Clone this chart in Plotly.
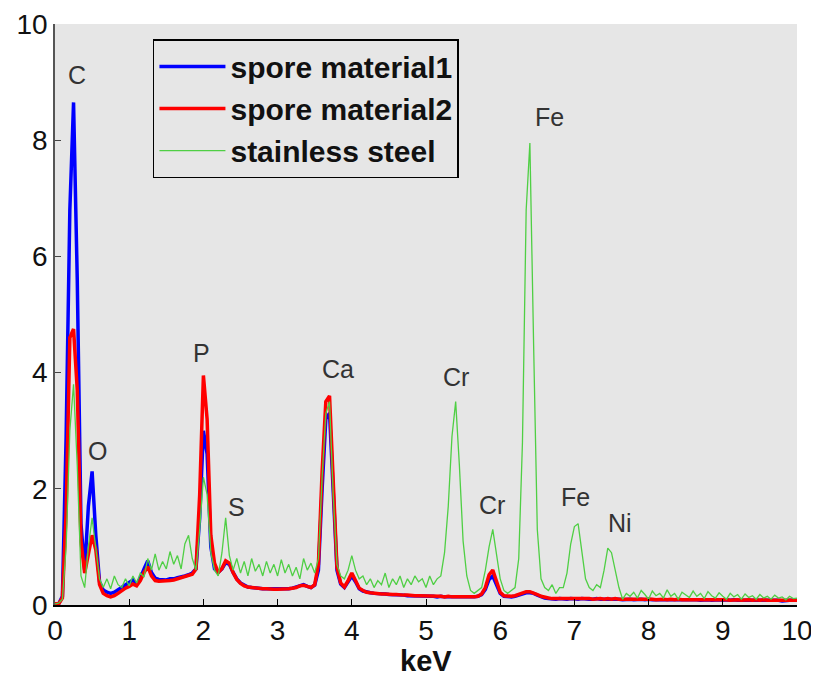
import plotly.graph_objects as go

# Energy grid (keV), 0.05 keV sampling
kev = [round(0.05 * i, 2) for i in range(201)]

# spore material1 (blue), 10 samples per row = 0.5 keV per row
spore1 = [
    0.02, 0.02, 0.15, 2.9, 6.8, 8.65, 5.6, 1.4, 0.6, 1.7,
    2.3, 1.2, 0.4, 0.26, 0.22, 0.2, 0.22, 0.26, 0.3, 0.34,
    0.38, 0.43, 0.36, 0.46, 0.62, 0.76, 0.56, 0.46, 0.44, 0.43,
    0.43, 0.45, 0.45, 0.47, 0.48, 0.5, 0.52, 0.55, 0.62, 1.5,
    3.0, 2.6, 1.0, 0.62, 0.56, 0.62, 0.73, 0.7, 0.56, 0.45,
    0.38, 0.34, 0.31, 0.3, 0.29, 0.29, 0.28, 0.28, 0.28, 0.27,
    0.27, 0.28, 0.27, 0.28, 0.29, 0.31, 0.34, 0.35, 0.32, 0.3,
    0.34, 0.6, 2.0, 3.2, 3.3, 1.8, 0.6, 0.36, 0.3, 0.4,
    0.5, 0.4, 0.28, 0.24, 0.22, 0.21, 0.2, 0.2, 0.19, 0.19,
    0.18, 0.18, 0.17, 0.17, 0.17, 0.16, 0.16, 0.16, 0.15, 0.16,
    0.15, 0.15, 0.15, 0.14, 0.15, 0.14, 0.14, 0.14, 0.14, 0.13,
    0.14, 0.13, 0.13, 0.14, 0.15, 0.18, 0.27, 0.44, 0.5, 0.36,
    0.2, 0.15, 0.14, 0.14, 0.15, 0.17, 0.19, 0.21, 0.21, 0.2,
    0.17, 0.14, 0.12, 0.11, 0.1, 0.1, 0.11, 0.1, 0.1, 0.11,
    0.1, 0.1, 0.11, 0.1, 0.1, 0.1, 0.11, 0.1, 0.1, 0.1,
    0.1, 0.11, 0.1, 0.09, 0.1, 0.1, 0.09, 0.1, 0.1, 0.09,
    0.1, 0.09, 0.09, 0.1, 0.09, 0.09, 0.1, 0.09, 0.09, 0.09,
    0.09, 0.1, 0.09, 0.09, 0.08, 0.09, 0.09, 0.08, 0.09, 0.09,
    0.08, 0.09, 0.08, 0.09, 0.08, 0.08, 0.09, 0.08, 0.08, 0.09,
    0.08, 0.08, 0.09, 0.08, 0.08, 0.08, 0.07, 0.08, 0.08, 0.08,
    0.08,
]

# spore material2 (red)
spore2 = [
    0.02, 0.02, 0.12, 1.6, 4.6, 4.75, 3.7, 1.1, 0.55, 0.9,
    1.2, 0.95, 0.35, 0.2, 0.16, 0.14, 0.16, 0.2, 0.25, 0.29,
    0.32, 0.36, 0.33, 0.42, 0.56, 0.66, 0.5, 0.42, 0.41, 0.41,
    0.42, 0.42, 0.43, 0.45, 0.46, 0.48, 0.5, 0.53, 0.62, 1.9,
    3.95, 3.2, 1.2, 0.72, 0.56, 0.63, 0.76, 0.72, 0.56, 0.44,
    0.37, 0.33, 0.31, 0.3, 0.29, 0.29, 0.28, 0.28, 0.27, 0.27,
    0.27, 0.27, 0.27, 0.28, 0.29, 0.3, 0.33, 0.34, 0.32, 0.3,
    0.35, 0.7, 2.3, 3.5, 3.6, 2.0, 0.65, 0.38, 0.31, 0.42,
    0.55, 0.42, 0.29, 0.25, 0.22, 0.21, 0.2, 0.2, 0.19, 0.19,
    0.18, 0.18, 0.18, 0.17, 0.17, 0.17, 0.16, 0.16, 0.16, 0.16,
    0.15, 0.16, 0.15, 0.15, 0.15, 0.14, 0.15, 0.14, 0.14, 0.14,
    0.14, 0.14, 0.13, 0.14, 0.15, 0.19, 0.3, 0.52, 0.6, 0.42,
    0.22, 0.16, 0.15, 0.15, 0.16, 0.18, 0.2, 0.23, 0.23, 0.21,
    0.18, 0.15, 0.13, 0.12, 0.11, 0.11, 0.12, 0.11, 0.11, 0.12,
    0.11, 0.11, 0.12, 0.11, 0.11, 0.1, 0.11, 0.11, 0.1, 0.11,
    0.1, 0.11, 0.1, 0.1, 0.1, 0.11, 0.1, 0.1, 0.1, 0.1,
    0.1, 0.1, 0.09, 0.1, 0.1, 0.09, 0.1, 0.09, 0.1, 0.09,
    0.09, 0.1, 0.09, 0.09, 0.09, 0.09, 0.1, 0.09, 0.09, 0.09,
    0.09, 0.09, 0.08, 0.09, 0.09, 0.08, 0.09, 0.09, 0.08, 0.09,
    0.08, 0.09, 0.08, 0.08, 0.09, 0.08, 0.08, 0.08, 0.09, 0.08,
    0.08,
]

# stainless steel (green)
steel = [
    0.02, 0.03, 0.1, 1.0, 3.0, 3.8, 2.4, 0.5, 0.3, 1.0,
    1.5, 1.0, 0.45, 0.3, 0.45, 0.28, 0.5, 0.35, 0.3, 0.45,
    0.33, 0.5, 0.38, 0.55, 0.48, 0.8, 0.6, 0.88, 0.6, 0.75,
    0.62, 0.92, 0.7, 0.85, 0.62, 1.05, 1.2, 0.8, 0.6, 1.3,
    2.2, 1.9, 0.9, 0.6, 0.5, 0.9, 1.5, 0.85, 0.6, 0.8,
    0.55, 0.75, 0.5, 0.8, 0.58, 0.7, 0.5, 0.75, 0.55, 0.7,
    0.5, 0.78, 0.55, 0.7, 0.5, 0.65, 0.45, 0.8, 0.6, 0.72,
    0.55, 0.8, 2.2, 3.3, 3.5, 1.9, 0.7, 0.5, 0.45, 0.6,
    0.85, 0.6, 0.45, 0.5, 0.35, 0.45, 0.3, 0.42, 0.35, 0.55,
    0.3, 0.45, 0.35, 0.5, 0.3, 0.45, 0.35, 0.5, 0.4, 0.45,
    0.3, 0.5, 0.35, 0.45, 0.5, 0.9, 1.7, 2.9, 3.5, 2.4,
    1.1, 0.5, 0.25, 0.2, 0.25, 0.3, 0.6, 1.0, 1.3, 0.9,
    0.45, 0.25, 0.2, 0.25, 0.3, 0.8, 2.8, 6.8, 7.95, 4.5,
    1.3, 0.45, 0.3, 0.25, 0.35, 0.2, 0.3, 0.3, 0.55, 1.05,
    1.35, 1.4, 0.9, 0.45, 0.3, 0.25, 0.35, 0.3, 0.6, 0.98,
    0.9, 0.6, 0.3, 0.1, 0.2, 0.15, 0.22, 0.12, 0.25, 0.18,
    0.1, 0.24, 0.16, 0.2, 0.12, 0.26, 0.15, 0.2, 0.1, 0.22,
    0.17, 0.13, 0.24, 0.15, 0.2, 0.11, 0.23, 0.16, 0.12, 0.21,
    0.15, 0.1, 0.2, 0.14, 0.18, 0.1, 0.19, 0.13, 0.16, 0.1,
    0.18, 0.12, 0.15, 0.1, 0.17, 0.12, 0.14, 0.09, 0.15, 0.11,
    0.12,
]

series_names = ["spore material1", "spore material2", "stainless steel"]
series_colors = ["#0000ff", "#ff0000", "#4fcf44"]
series_widths = [3.5, 3.5, 1.3]

# Peak labels
peak_labels = ["C", "O", "P", "S", "Ca", "Cr", "Cr", "Fe", "Fe", "Ni"]
peak_x = [0.30, 0.57, 1.97, 2.44, 3.81, 5.40, 5.89, 6.66, 7.02, 7.61]
peak_y = [9.12, 2.65, 4.34, 1.69, 4.06, 3.92, 1.72, 8.40, 1.86, 1.41]

fig = go.Figure()
for name, ys, col, w in zip(series_names, [spore1, spore2, steel], series_colors, series_widths):
    fig.add_trace(go.Scatter(x=kev, y=ys, mode="lines", name=name,
                             line=dict(color=col, width=w)))

for t, x, y in zip(peak_labels, peak_x, peak_y):
    fig.add_annotation(x=x, y=y, text=t, showarrow=False,
                       font=dict(family="Arial", size=25, color="#333333"))

# x-axis title placed just below the tick labels
fig.add_annotation(x=0.5, y=-0.097, xref="paper", yref="paper", text="keV",
                   showarrow=False, xanchor="center", yanchor="middle",
                   font=dict(size=29, color="#111111", weight="bold"))

font_family = "Arial, Liberation Sans, sans-serif"
# the page body adds an 8px offset, so the figure is sized to fit the window
fig.update_layout(
    width=811, height=673,
    margin=dict(l=47, r=22, t=16, b=76, autoexpand=False),
    paper_bgcolor="white",
    plot_bgcolor="#e6e6e6",
    font=dict(family=font_family, color="black"),
    showlegend=True,
    legend=dict(
        x=0.132, y=0.974, xanchor="left", yanchor="top",
        bgcolor="#e6e6e6", bordercolor="black", borderwidth=1.5,
        font=dict(size=30, color="#111111", family=font_family, weight="bold"),
        tracegroupgap=0, itemwidth=66,
    ),
)
fig.update_xaxes(
    range=[0, 10], tickvals=list(range(0, 11)),
    ticks="inside", ticklen=6, tickcolor="black",
    showline=True, linecolor="black", linewidth=1.5,
    showgrid=False, zeroline=False, automargin=False,
    tickfont=dict(size=28, color="#111111"),
)
fig.update_yaxes(
    range=[0, 10], tickvals=[0, 2, 4, 6, 8, 10],
    ticks="inside", ticklen=6, tickcolor="#444444",
    showline=True, linecolor="#555555", linewidth=1.5,
    showgrid=False, zeroline=False, automargin=False,
    tickfont=dict(size=28, color="#111111"),
)

fig.write_html("out.html")
